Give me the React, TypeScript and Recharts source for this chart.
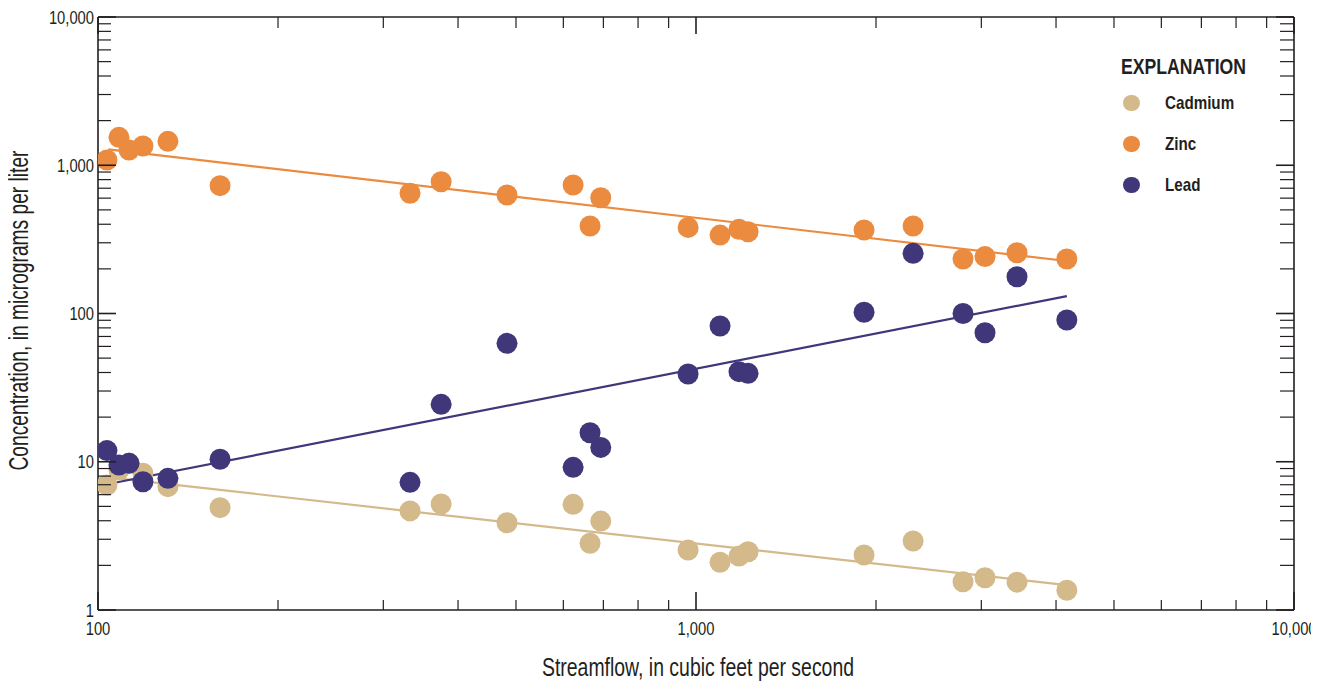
import React from 'react';
import { ScatterChart, Scatter, XAxis, YAxis, Legend } from 'recharts';

// Paired samples: streamflow (ft³/s) and metal concentrations (µg/L)
const streamflow = [103.5, 108.4, 112.7, 118.9, 130.9, 160, 332.5, 374.8, 483, 623, 665, 693, 970, 1097, 1180, 1222, 1910, 2307, 2796, 3043, 3442, 4170];
const cadmium = [6.97, 8.8, 9.8, 8.36, 6.79, 4.9, 4.66, 5.19, 3.88, 5.16, 2.82, 3.98, 2.54, 2.1, 2.31, 2.47, 2.35, 2.92, 1.55, 1.65, 1.54, 1.36];
const zinc = [1085, 1543, 1267, 1349, 1450, 728, 647, 774, 630, 736, 389, 604, 381, 338, 370, 356, 366, 389, 233, 242, 257, 233];
const lead = [11.9, 9.5, 9.76, 7.33, 7.73, 10.4, 7.26, 24.4, 62.9, 9.17, 15.7, 12.5, 39.1, 82.3, 40.5, 39.5, 101.9, 254.7, 100, 74.2, 177, 90.4];

// Fitted log-log trend lines (end points)
const trendFlow = [104, 4170];
const cadmiumTrend = [7.85, 1.47];
const zincTrend = [1280, 226];
const leadTrend = [7.08, 131];

const xTicks = [100, 200, 300, 400, 500, 600, 700, 800, 900, 1000, 2000, 3000, 4000, 5000, 6000, 7000, 8000, 9000, 10000];
const yTicks = [1, 2, 3, 4, 5, 6, 7, 8, 9, 10, 20, 30, 40, 50, 60, 70, 80, 90, 100, 200, 300, 400, 500, 600, 700, 800, 900, 1000, 2000, 3000, 4000, 5000, 6000, 7000, 8000, 9000, 10000];

const seriesNames = ['Cadmium', 'Zinc', 'Lead'];
const seriesColors = ['#D4B98B', '#EB8B40', '#3F377A'];

const INK = '#231F20';
const FONT = "'Liberation Sans', Arial, sans-serif";
const NARROW = 0.82; // horizontal squeeze for a condensed look

const pairs = (xs: number[], ys: number[]) => xs.map((x, i) => ({ x, y: ys[i] }));

const isMajor = (v: number) => Math.abs(Math.log10(v) - Math.round(Math.log10(v))) < 1e-9;
const fmt = (v: number) => v.toLocaleString('en-US');

const NarrowText = ({ x, y, anchor, size, children }: any) => (
  <g transform={`translate(${x},${y}) scale(${NARROW},1)`}>
    <text x={0} y={0} textAnchor={anchor} fontFamily={FONT} fontSize={size} fill={INK}>
      {children}
    </text>
  </g>
);

const BottomTick = (p: any) => {
  const v = p.payload.value;
  const major = isMajor(v);
  return (
    <g>
      <line x1={p.x} x2={p.x} y1={p.y} y2={p.y - (major ? 18 : 10)} stroke={INK} strokeWidth={major ? 1.6 : 1.2} />
      {major && <NarrowText x={p.x} y={p.y + 25} anchor="middle" size={18}>{fmt(v)}</NarrowText>}
    </g>
  );
};

const TopTick = (p: any) => {
  const major = isMajor(p.payload.value);
  return <line x1={p.x} x2={p.x} y1={p.y} y2={p.y + (major ? 17 : 11)} stroke={INK} strokeWidth={major ? 1.6 : 1.2} />;
};

const LeftTick = (p: any) => {
  const v = p.payload.value;
  const major = isMajor(v);
  return (
    <g>
      <line x1={p.x} x2={p.x + (major ? 18 : 13)} y1={p.y} y2={p.y} stroke={INK} strokeWidth={major ? 1.6 : 1.2} />
      {major && <NarrowText x={p.x - 4} y={p.y + 6.5} anchor="end" size={18}>{fmt(v)}</NarrowText>}
    </g>
  );
};

const RightTick = (p: any) => {
  const major = isMajor(p.payload.value);
  return <line x1={p.x} x2={p.x - (major ? 18 : 14)} y1={p.y} y2={p.y} stroke={INK} strokeWidth={major ? 1.6 : 1.2} />;
};

const XTitle = (p: any) => {
  const vb = p.viewBox;
  return (
    <text x={vb.x + vb.width / 2 + 2} y={vb.y + 66} textAnchor="middle" fontFamily={FONT} fontSize={26} fill={INK} textLength={312} lengthAdjust="spacingAndGlyphs">
      Streamflow, in cubic feet per second
    </text>
  );
};

const YTitle = (p: any) => {
  const vb = p.viewBox;
  const cx = 28;
  const cy = vb.y + vb.height / 2 - 3;
  return (
    <text x={cx} y={cy} transform={`rotate(-90 ${cx} ${cy})`} textAnchor="middle" fontFamily={FONT} fontSize={27} fill={INK} textLength={320} lengthAdjust="spacingAndGlyphs">
      Concentration, in micrograms per liter
    </text>
  );
};

const squeeze: React.CSSProperties = { transform: `scaleX(${NARROW})`, transformOrigin: 'left center', whiteSpace: 'nowrap' };

const LegendBox = () => (
  <div style={{ position: 'relative', height: 150, width: 190, fontFamily: FONT, color: INK }}>
    <div style={{ position: 'absolute', left: 0, top: 0, fontSize: 21.5, lineHeight: '21px', fontWeight: 700, ...squeeze }}>EXPLANATION</div>
    {seriesNames.map((name, i) => (
      <div key={name} style={{ position: 'absolute', left: 0, top: 46 + i * 41 - 12, height: 24, width: 190 }}>
        <span style={{ position: 'absolute', left: 2, top: 3.7, width: 16.6, height: 16.6, borderRadius: '50%', background: seriesColors[i] }} />
        <span style={{ position: 'absolute', left: 44, top: 0, fontSize: 18.5, lineHeight: '24px', fontWeight: 700, ...squeeze }}>{name}</span>
      </div>
    ))}
  </div>
);

const dotShape = (color: string) => (p: any) => <circle cx={p.cx} cy={p.cy} r={10.5} fill={color} />;
const noShape = () => <g />;

const axisLine = { stroke: INK, strokeWidth: 1.6 };

export default function App() {
  const points = [cadmium, zinc, lead].map((s) => pairs(streamflow, s));
  const trends = [cadmiumTrend, zincTrend, leadTrend].map((s) => pairs(trendFlow, s));
  return (
    <div style={{ margin: '-8px 0 0 -8px', width: 1319, height: 682 }}>
      <ScatterChart width={1319} height={682} margin={{ top: 16, right: 24, bottom: 0, left: 0 }}>
        <XAxis xAxisId="b" dataKey="x" type="number" scale="log" domain={[100, 10000]} allowDataOverflow ticks={xTicks} interval={0}
          tickSize={0} tickMargin={0} tickLine={false} axisLine={axisLine} height={72} tick={BottomTick} label={XTitle} />
        <XAxis xAxisId="t" orientation="top" dataKey="x" type="number" scale="log" domain={[100, 10000]} allowDataOverflow ticks={xTicks} interval={0}
          tickSize={0} tickMargin={0} tickLine={false} axisLine={axisLine} height={1} tick={TopTick} />
        <YAxis yAxisId="l" dataKey="y" type="number" scale="log" domain={[1, 10000]} allowDataOverflow ticks={yTicks} interval={0}
          tickSize={0} tickMargin={0} tickLine={false} axisLine={axisLine} width={98} tick={LeftTick} label={YTitle} />
        <YAxis yAxisId="r" orientation="right" dataKey="y" type="number" scale="log" domain={[1, 10000]} allowDataOverflow ticks={yTicks} interval={0}
          tickSize={0} tickMargin={0} tickLine={false} axisLine={axisLine} width={1} tick={RightTick} />
        {trends.map((d, i) => (
          <Scatter key={'t' + i} name={seriesNames[i] + ' trend'} data={d} xAxisId="b" yAxisId="l" legendType="none"
            line={{ stroke: seriesColors[i], strokeWidth: 2.2 }} shape={noShape} isAnimationActive={false} />
        ))}
        {points.map((d, i) => (
          <Scatter key={'p' + i} name={seriesNames[i]} data={d} xAxisId="b" yAxisId="l" fill={seriesColors[i]}
            shape={dotShape(seriesColors[i])} isAnimationActive={false} />
        ))}
        <Legend layout="horizontal" verticalAlign="middle" align="center" content={LegendBox}
          wrapperStyle={{ left: 1121, top: 57, width: 190, height: 150 }} />
      </ScatterChart>
    </div>
  );
}
